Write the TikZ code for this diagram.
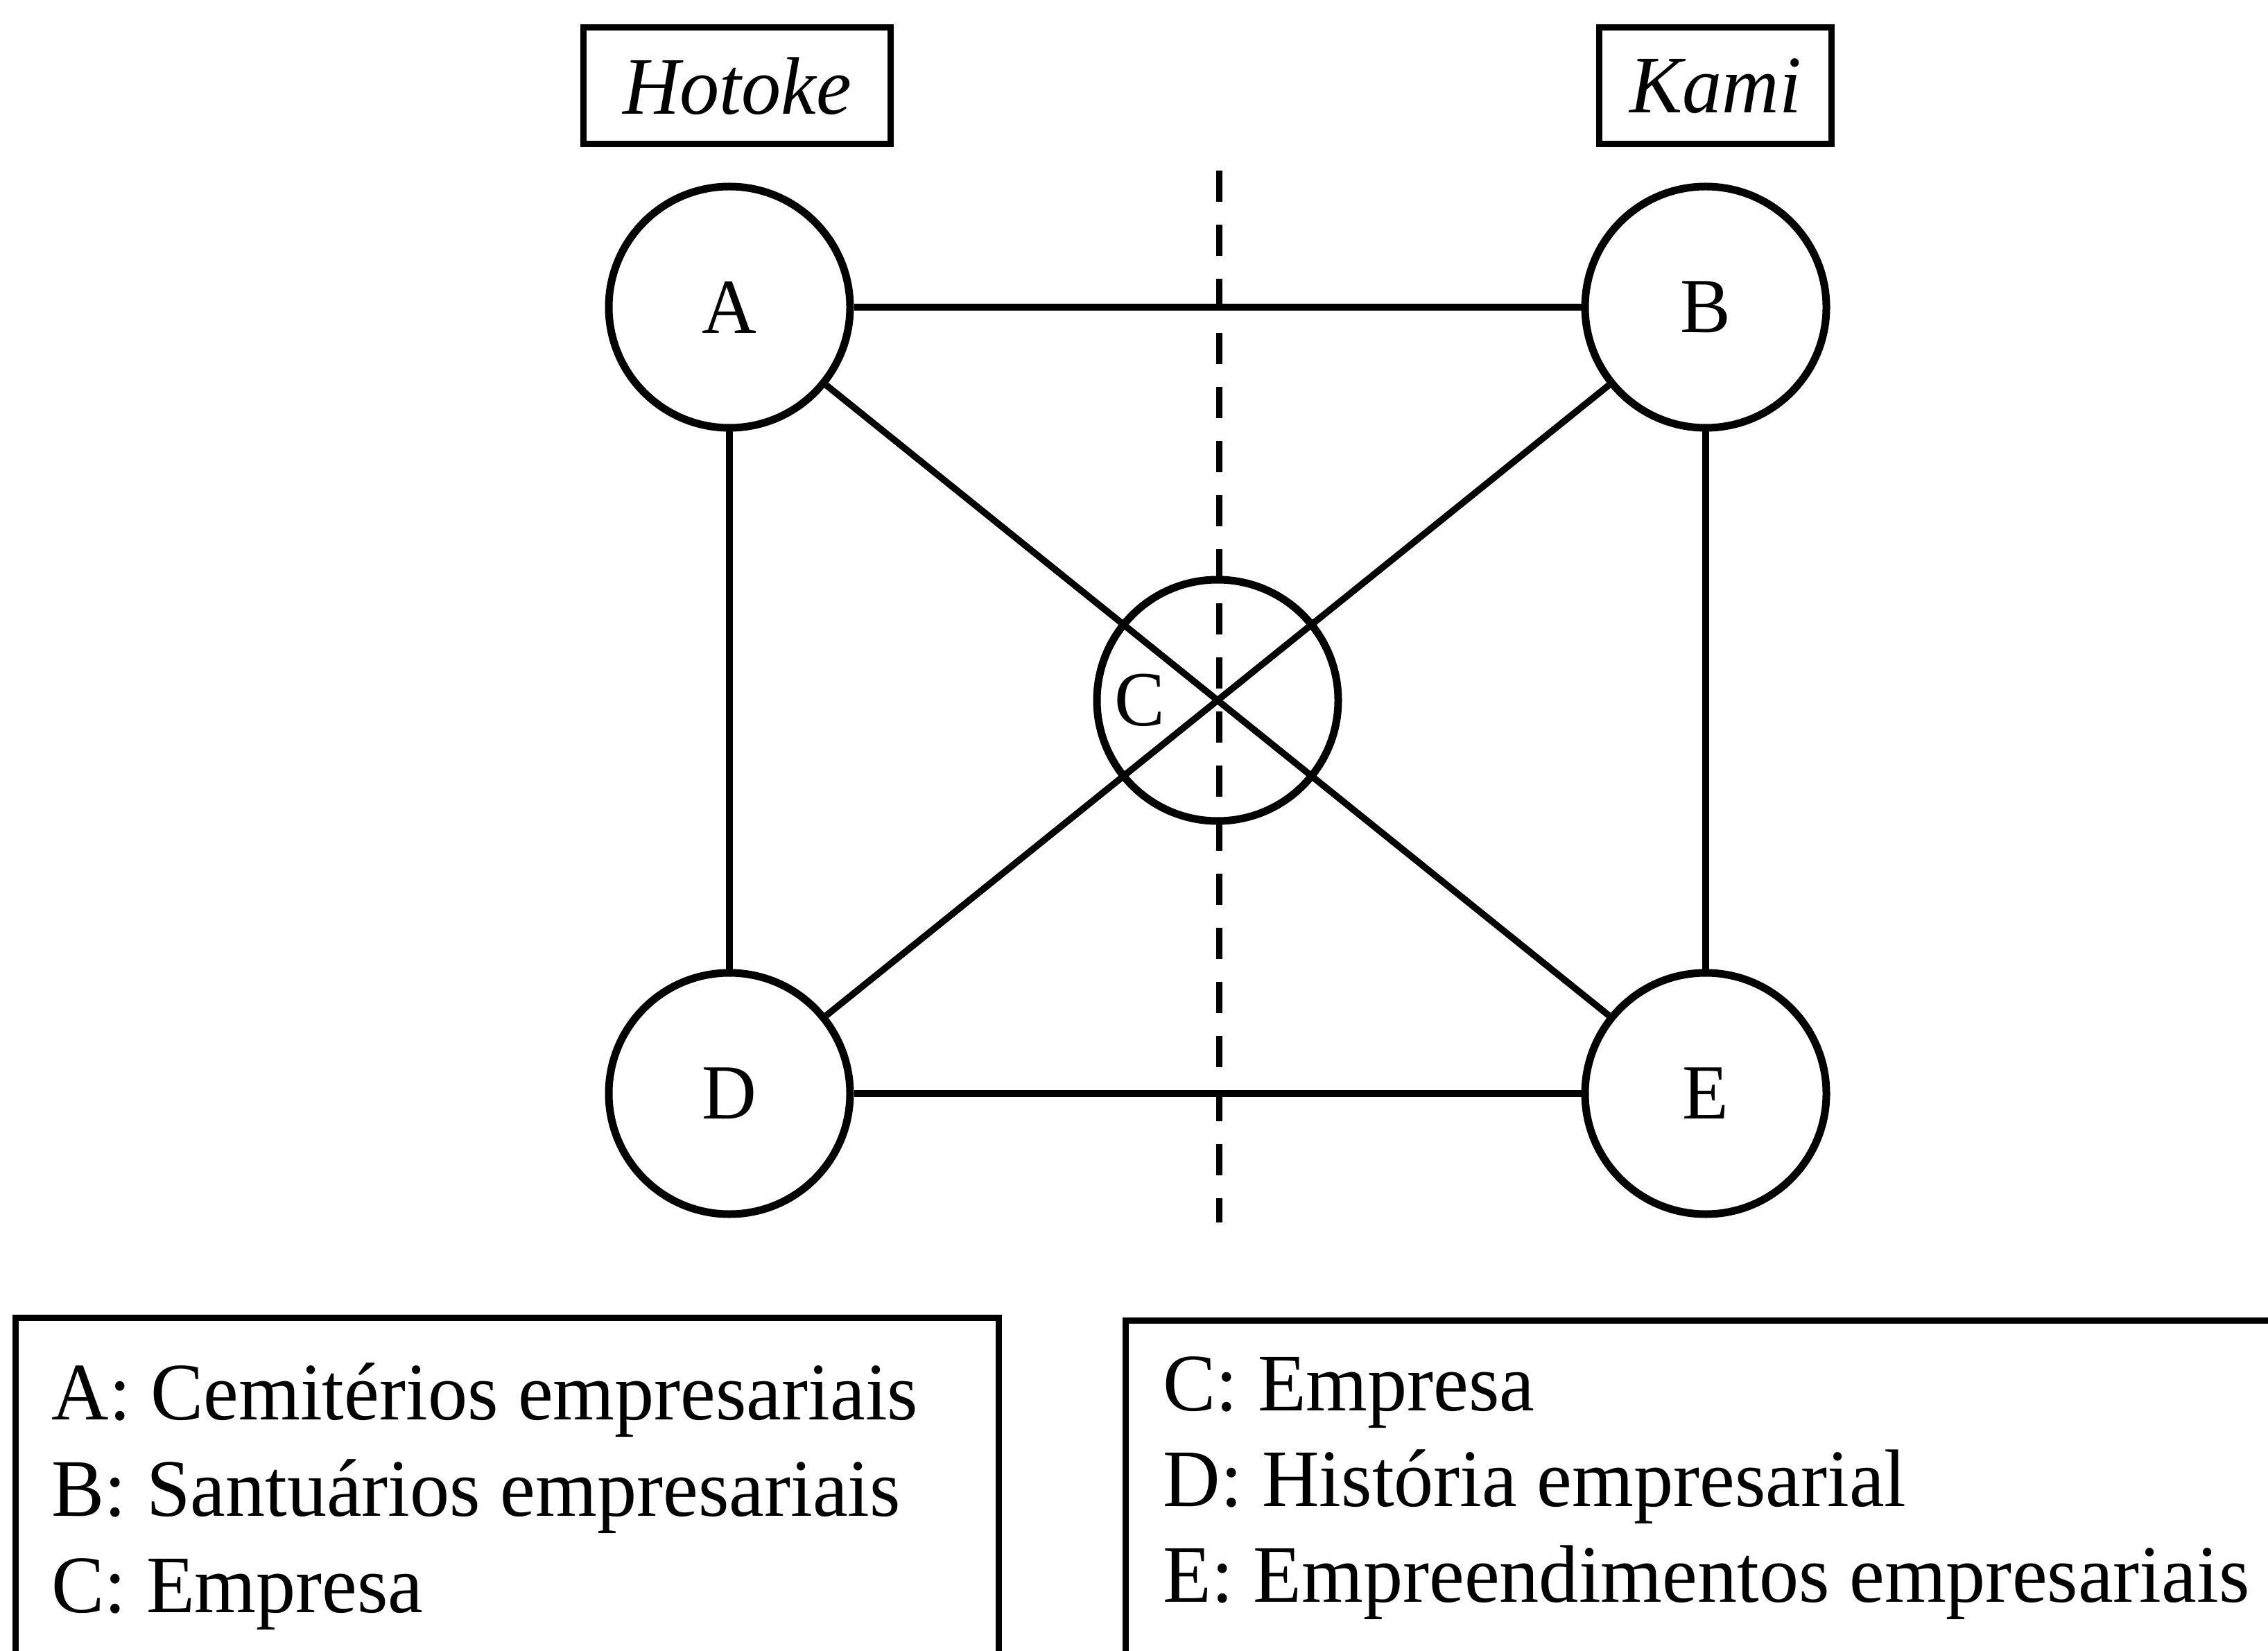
\documentclass[tikz,border=0pt]{standalone}
\usepackage{fontspec}
\setmainfont[FakeStretch=0.97]{Liberation Serif}
\usetikzlibrary{positioning}

\begin{document}
\begin{tikzpicture}[
    place/.style={circle, draw, line width=0.11cm, minimum size=3.48cm, inner sep=0pt, font=\fontsize{32}{38}\selectfont},
    tag/.style={rectangle, draw, line width=0.09cm, minimum height=1.68cm, inner sep=0pt, font=\fontsize{33.5}{40}\selectfont\itshape},
    link/.style={line width=0.095cm},
    divider/.style={line width=0.09cm, dash pattern=on 0.45cm off 0.33cm},
    keybox/.style={line width=0.09cm},
    entry/.style={inner sep=0pt, font=\fontsize{33.5}{40}\selectfont}
  ]
  \useasboundingbox (0,0) rectangle (32.71,23.80);
  \clip (0,0) rectangle (32.71,23.80);

  \node[tag, minimum width=4.43cm] (hotoke) at (10.63,22.56) {Hotoke};
  \node[tag, minimum width=3.35cm] (kami) at (24.74,22.56) {Kami};

  \node[place] (A) at (10.52,19.37) {A};
  \node[place] (B) at (24.60,19.37) {B};
  \node[place] (D) at (10.52,8.03) {D};
  \node[place] (E) at (24.60,8.03) {E};
  \node[place, label={[font=\fontsize{32}{38}\selectfont, xshift=-1.12cm]center:C}] (C) at (17.56,13.70) {};

  % line between the two sides
  \coordinate (divtop) at (17.58,21.34);
  \coordinate (divbot) at (17.58,6.17);
  \draw[divider] (divtop) -- (divbot);

  \foreach \from/\to in {A/B, A/D, B/E, D/E, A/E, D/B}
    \draw[link] (\from) -- (\to);

  % legend
  \draw[keybox] (0.22,4.80) rectangle (14.40,-1);
  \draw[keybox] (16.23,4.76) rectangle (34,-1);
  \node[entry, anchor=base west] (keyA) at (0.74,3.33) {A: Cemitérios empresariais};
  \node[entry, below=1.39cm of keyA.base west, anchor=base west] (keyB) {B: Santuários empresariais};
  \node[entry, below=1.39cm of keyB.base west, anchor=base west] (keyC) {C: Empresa};
  \node[entry, anchor=base west] (keyC2) at (16.77,3.46) {C: Empresa};
  \node[entry, below=1.38cm of keyC2.base west, anchor=base west] (keyD) {D: História empresarial};
  \node[entry, below=1.38cm of keyD.base west, anchor=base west] (keyE) {E: Empreendimentos empresariais};
\end{tikzpicture}
\end{document}
